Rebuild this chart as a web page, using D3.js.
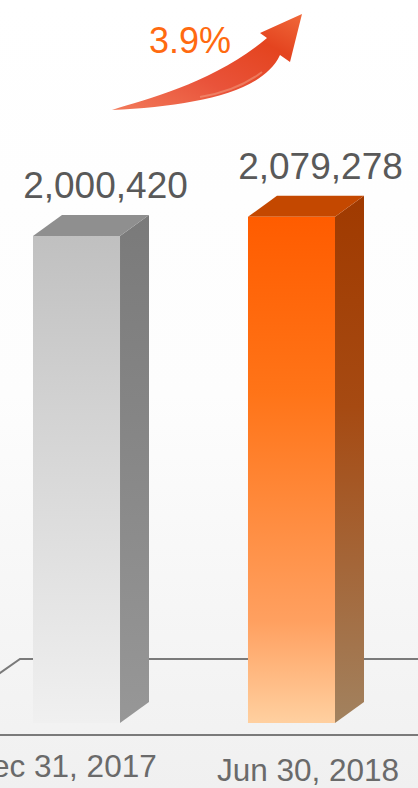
<!DOCTYPE html>
<html>
<head>
<meta charset="utf-8">
<script src="https://cdn.jsdelivr.net/npm/d3@7"></script>
<style>
  html, body { margin: 0; padding: 0; background: #fff; }
  svg { display: block; }
</style>
</head>
<body>
<svg id="chart" width="418" height="788"></svg>
<script>
// ---- data ----
const categories = ["Dec 31, 2017", "Jun 30, 2018"];
const values = [2000420, 2079278];
const growthLabel = "3.9%";
const palettes = ["gray", "orange"];

// ---- setup ----
const W = 418, H = 788;
const svg = d3.select("#chart");
const defs = svg.append("defs");
const font = "'Liberation Sans', Arial, sans-serif";

// background gradient
const bg = defs.append("linearGradient").attr("id", "bg").attr("x1", 0).attr("y1", 0).attr("x2", 0).attr("y2", 1);
bg.append("stop").attr("offset", "0%").attr("stop-color", "#ffffff");
bg.append("stop").attr("offset", "50%").attr("stop-color", "#fdfdfd");
bg.append("stop").attr("offset", "100%").attr("stop-color", "#f0f0f0");
svg.append("rect").attr("width", W).attr("height", H).attr("fill", "url(#bg)");

function grad(id, stops) {
  const g = defs.append("linearGradient").attr("id", id).attr("x1", 0).attr("y1", 0).attr("x2", 0).attr("y2", 1);
  stops.forEach(([o, c]) => g.append("stop").attr("offset", o).attr("stop-color", c));
}
grad("gray-front", [["0%", "#c0c0c0"], ["35%", "#d2d2d2"], ["100%", "#f0f0f0"]]);
grad("gray-side", [["0%", "#7a7a7a"], ["40%", "#858585"], ["100%", "#979797"]]);
grad("orange-front", [["0%", "#ff5c00"], ["35%", "#ff7418"], ["80%", "#ffa060"], ["100%", "#ffd0a0"]]);
grad("orange-side", [["0%", "#a03a00"], ["40%", "#a64a12"], ["100%", "#a2825f"]]);
const topColor = { gray: "#8f8f8f", orange: "#c44800" };

// arrow gradient
const ag = defs.append("linearGradient").attr("id", "arrow").attr("x1", 0).attr("y1", 1).attr("x2", 1).attr("y2", 0);
ag.append("stop").attr("offset", "0%").attr("stop-color", "#f27a5a");
ag.append("stop").attr("offset", "40%").attr("stop-color", "#e9533a");
ag.append("stop").attr("offset", "75%").attr("stop-color", "#e4441f");
ag.append("stop").attr("offset", "100%").attr("stop-color", "#f0693a");

// ---- scales ----
const x = d3.scaleBand().domain(categories).range([33, 335]).paddingInner(0.5953).paddingOuter(0);
const y = d3.scaleLinear().domain([0, 2100000]).range([723, 211.75]);
const labelX = d3.scalePoint().domain(categories).range([63, 308]);
const bw = x.bandwidth();
const dx = 29, dy = -21;

// ---- floor ----
const floorBack = 659, floorFront = 735;
svg.append("path")
  .attr("d", `M-10,${floorBack + 21} L20,${floorBack} L${W},${floorBack}`)
  .attr("fill", "none").attr("stroke", "#7a7a7a").attr("stroke-width", 2);

// ---- bars ----
const bars = svg.append("g").selectAll("g").data(categories).join("g");
bars.each(function (c, i) {
  const g = d3.select(this);
  const x0 = x(c), x1 = x0 + bw;
  const yt = y(values[i]), yb = y(0);
  const p = palettes[i];
  // side
  g.append("path")
    .attr("d", `M${x1},${yt} L${x1 + dx},${yt + dy} L${x1 + dx},${yb + dy} L${x1},${yb} Z`)
    .attr("fill", `url(#${p}-side)`);
  // top
  g.append("path")
    .attr("d", `M${x0},${yt} L${x0 + dx},${yt + dy} L${x1 + dx},${yt + dy} L${x1},${yt} Z`)
    .attr("fill", topColor[p]);
  // front
  g.append("rect")
    .attr("x", x0).attr("y", yt).attr("width", bw).attr("height", yb - yt)
    .attr("fill", `url(#${p}-front)`);
  // value label
  g.append("text")
    .attr("x", x0 + bw / 2 + 29).attr("y", yt - 38)
    .attr("text-anchor", "middle")
    .attr("font-family", font).attr("font-size", 37)
    .attr("fill", "#595959")
    .text(d3.format(",")(values[i]));
  // category label
  g.append("text")
    .attr("x", labelX(c)).attr("y", 777 + i * 4)
    .attr("text-anchor", "middle")
    .attr("font-family", font).attr("font-size", 31.5)
    .attr("fill", "#6a6a6a")
    .text(c);
});

// front floor line
svg.append("line")
  .attr("x1", 0).attr("x2", W).attr("y1", floorFront).attr("y2", floorFront)
  .attr("stroke", "#7a7a7a").attr("stroke-width", 2);

// ---- growth arrow ----
svg.append("path")
  .attr("d", "M112,110 C150,98 215,82 267,38 L260,33 L302,14 L290,62 L280,55 C262,94 190,106 112,110 Z")
  .attr("fill", "url(#arrow)");
svg.append("path")
  .attr("d", "M200,97 C225,93 245,85 262,72")
  .attr("fill", "none").attr("stroke", "#f4a58a").attr("stroke-width", 2).attr("opacity", 0.5);

svg.append("text")
  .attr("x", 149).attr("y", 53)
  .attr("font-family", font).attr("font-size", 36)
  .attr("fill", "#ff6a10")
  .text(growthLabel);
</script>
</body>
</html>
